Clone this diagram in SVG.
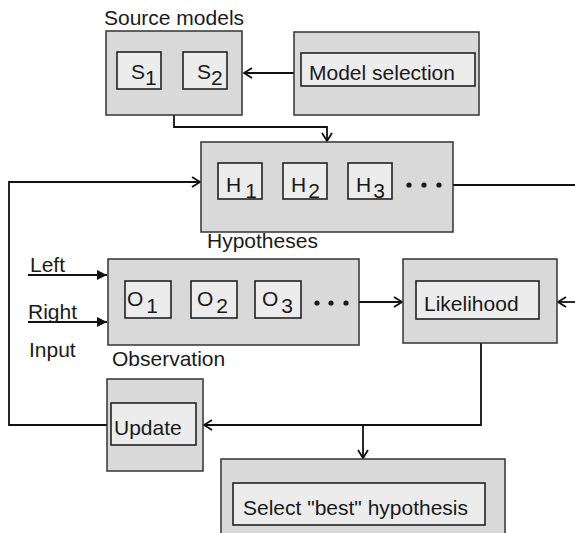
<svg xmlns="http://www.w3.org/2000/svg" width="575" height="533" viewBox="0 0 575 533">
<style>
.outer{fill:#d9d9d9;stroke:#333;stroke-width:1.5}
.inner{fill:#ececec;stroke:#222;stroke-width:1.6}
.t{font-family:"Liberation Sans",Arial,sans-serif;font-size:21px;fill:#1a1a1a}
.c{fill:none;stroke:#111;stroke-width:1.8}
.dot{fill:#1a1a1a}
</style>
<defs>
<marker id="open" markerUnits="userSpaceOnUse" markerWidth="14" markerHeight="14" viewBox="-10 -7 12 14" refX="0" refY="0" orient="auto">
<path d="M-8,-5 L0,0 L-8,5" fill="none" stroke="#111" stroke-width="1.8"/>
</marker>
<marker id="fill" markerUnits="userSpaceOnUse" markerWidth="14" markerHeight="14" viewBox="-12 -7 14 14" refX="0" refY="0" orient="auto">
<path d="M-10,-5 L0,0 L-10,5 Z" fill="#111"/>
</marker>
</defs>
<g id="connectors">
<path class="c" d="M294,73 H244" marker-end="url(#open)"/>
<path class="c" d="M174,115 V127 H327 V141" marker-end="url(#open)"/>
<path class="c" d="M107,425 H9 V182 H200" marker-end="url(#open)"/>
<path class="c" d="M453,185 H575"/>
<path class="c" d="M28,275 H107" marker-end="url(#fill)"/>
<path class="c" d="M28,322 H107" marker-end="url(#fill)"/>
<path class="c" d="M359,302 H402" marker-end="url(#open)"/>
<path class="c" d="M575,302 H558" marker-end="url(#open)"/>
<path class="c" d="M481,343 V425 H204" marker-end="url(#open)"/>
<path class="c" d="M363,425 V458" marker-end="url(#open)"/>
</g>
<g id="source-models">
<text class="t" x="104" y="25">Source models</text>
<rect class="outer" x="106" y="31" width="136" height="84"/>
<rect class="inner" x="117" y="52" width="44" height="37"/>
<text class="t" x="131" y="79">S<tspan dy="6">1</tspan></text>
<rect class="inner" x="183" y="52" width="44" height="37"/>
<text class="t" x="197" y="79">S<tspan dy="6">2</tspan></text>
</g>
<g id="model-selection">
<rect class="outer" x="294" y="32" width="185" height="83"/>
<rect class="inner" x="301" y="53" width="174" height="33"/>
<text class="t" x="309" y="80">Model selection</text>
</g>
<g id="hypotheses">
<rect class="outer" x="201" y="142" width="252" height="90"/>
<rect class="inner" x="218" y="163" width="44" height="36"/>
<text class="t" x="226" y="192">H<tspan dx="4" dy="6">1</tspan></text>
<rect class="inner" x="283" y="163" width="44" height="36"/>
<text class="t" x="291" y="192">H<tspan dx="2" dy="6">2</tspan></text>
<rect class="inner" x="348" y="163" width="44" height="36"/>
<text class="t" x="356" y="192">H<tspan dx="2" dy="6">3</tspan></text>
<circle class="dot" cx="409" cy="185" r="2.6"/>
<circle class="dot" cx="424" cy="185" r="2.6"/>
<circle class="dot" cx="439" cy="185" r="2.6"/>
<text class="t" x="207" y="248">Hypotheses</text>
</g>
<g id="input">
<text class="t" x="30" y="272">Left</text>
<text class="t" x="28" y="319">Right</text>
<text class="t" x="29" y="357">Input</text>
</g>
<g id="observation">
<rect class="outer" x="108" y="259" width="251" height="86"/>
<rect class="inner" x="125" y="281" width="46" height="37"/>
<text class="t" x="127" y="306">O<tspan dx="3" dy="7">1</tspan></text>
<rect class="inner" x="191" y="281" width="46" height="37"/>
<text class="t" x="197" y="306">O<tspan dx="3" dy="7">2</tspan></text>
<rect class="inner" x="255" y="281" width="46" height="37"/>
<text class="t" x="262" y="306">O<tspan dx="3" dy="7">3</tspan></text>
<circle class="dot" cx="317" cy="303" r="2.6"/>
<circle class="dot" cx="331" cy="303" r="2.6"/>
<circle class="dot" cx="346" cy="303" r="2.6"/>
<text class="t" x="112" y="366">Observation</text>
</g>
<g id="likelihood">
<rect class="outer" x="403" y="259" width="154" height="84"/>
<rect class="inner" x="416" y="281" width="123" height="38"/>
<text class="t" x="424" y="311">Likelihood</text>
</g>
<g id="update">
<rect class="outer" x="107" y="379" width="96" height="92"/>
<rect class="inner" x="111" y="403" width="85" height="42"/>
<text class="t" x="114" y="435">Update</text>
</g>
<g id="select-best">
<rect class="outer" x="221" y="459" width="284" height="90"/>
<rect class="inner" x="233" y="483" width="252" height="42"/>
<text class="t" x="243" y="515">Select "best" hypothesis</text>
</g>
</svg>
